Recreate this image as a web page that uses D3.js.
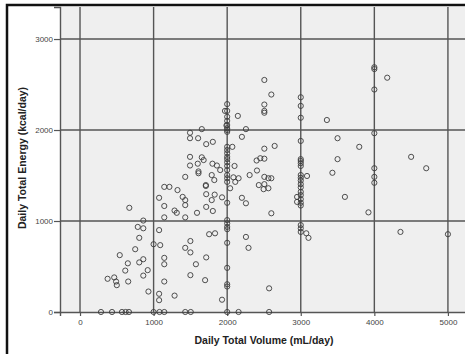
<!DOCTYPE html>
<html>
<head>
<meta charset="utf-8">
<script src="https://cdn.jsdelivr.net/npm/d3@7"></script>
<style>
  body { margin: 0; background: #fff; }
  text { font-family: "Liberation Sans", Arial, sans-serif; }
</style>
</head>
<body>
<script>
// daily total volume (mL/day) and daily total energy (kcal/day), one pair per subject
var volume = [
  2000, 2000, 2000, 2000, 2000, 2000, 2000, 2000, 2000, 2000, 2000, 2000, 2000, 2000, 2000, 2000,
  2000, 2000, 2000, 2000, 2000, 2000, 2000, 2000, 2000, 2000, 2000, 2000, 2000, 1970, 1990,
  3000, 3000, 3000, 3000, 3000, 3000, 3000, 3000, 3000, 3000, 3000, 3000, 3000, 3000, 3000, 3000,
  3000, 3000, 3000, 3000, 3000, 2950, 2950, 3085, 3075, 3105,
  4000, 4000, 4000, 4000, 4000, 4000, 4000,
  4175, 3355, 3500, 3795, 3500, 3430, 3600, 3920, 4355, 4500, 4705, 5000,
  2505, 2600, 2505, 2505, 2505, 2145, 2255, 2200, 2070, 2505, 2645, 2400, 2450, 2505, 2100, 2405,
  2305, 2505, 2560, 2600, 2085, 2155, 2110, 2430, 2505, 2495, 2560, 2040, 2200, 2255, 2600, 2255,
  2290, 2570, 2570, 2155,
  1655, 1715, 1805, 1655, 1680, 1800, 1860, 1905, 1790, 1825, 1710, 1710, 1715, 1830, 1790, 1930,
  1715, 1805, 1755, 1835, 1715, 1700, 1930,
  1495, 1495, 1605, 1495, 1495, 1600, 1610, 1610, 1430, 1395, 1430, 1430, 1430, 1590, 1500, 1430,
  1500, 1575, 1500, 1430, 1505,
  1145, 1215, 1325, 1075, 1145, 1285, 1315, 1145, 1075, 1090, 1145, 1145, 1145, 1075, 1075, 1285,
  1000, 1000, 1080, 1145,
  670, 860, 785, 860, 805, 750, 540, 860, 805, 650, 920, 615, 860, 375, 465, 490,
  500, 655, 930, 285, 435, 570, 620, 665
];
var energy = [
  2285, 2210, 2145, 2100, 2055, 2020, 2000, 1980, 1815, 1780, 1745, 1705, 1680, 1645, 1605, 1560,
  1505, 1470, 1430, 1200, 1010, 975, 935, 910, 760, 485, 305, 280, 0, 2210, 2050,
  2360, 2265, 2135, 1880, 1680, 1660, 1635, 1605, 1505, 1475, 1445, 1405, 1370, 1320, 1285, 1240,
  1200, 1170, 955, 920, 880, 1265, 1210, 1495, 865, 815,
  2690, 2670, 2445, 1965, 1580, 1485, 1420,
  2575, 2110, 1910, 1815, 1680, 1530, 1265, 1095, 880, 1705, 1580, 855,
  2550, 2390, 2280, 2210, 2190, 2155, 2010, 1925, 1815, 1795, 1825, 1665, 1690, 1685, 1605, 1555,
  1505, 1485, 1470, 1470, 1480, 1470, 1430, 1395, 1405, 1350, 1360, 1360, 1255, 1195, 1085, 825,
  705, 260, 0, 0,
  2010, 1845, 1870, 1700, 1670, 1630, 1610, 1560, 1505, 1450, 1385, 1395, 1295, 1290, 1230, 1260,
  1155, 1110, 855, 865, 600, 350, 135,
  1970, 1910, 1910, 1705, 1610, 1630, 1525, 1545, 1485, 1265, 1230, 1175, 1040, 1090, 780, 705,
  655, 525, 405, 0, 0,
  1375, 1375, 1340, 1255, 1165, 1115, 1090, 1040, 900, 735, 595, 525, 335, 200, 130, 180,
  745, 0, 0, 0,
  1145, 1005, 935, 920, 815, 690, 625, 580, 545, 535, 460, 455, 400, 365, 380, 335,
  295, 335, 225, 0, 0, 0, 0, 0
];
var xTicks = [0, 1000, 2000, 3000, 4000, 5000];
var yTicks = [0, 1000, 2000, 3000];

var width = 465;
var height = 354;
var plotLeft = 60, plotRight = 470, plotTop = 7, plotBottom = 312;

var data = volume.map(function (v, i) { return { volume: v, energy: energy[i] }; });

var svg = d3.select("body").append("svg")
    .attr("width", width)
    .attr("height", height);

svg.append("rect")
    .attr("width", width).attr("height", height)
    .attr("fill", "#fff");

var xScale = d3.scaleLinear().domain([-272, 5300]).range([plotLeft, plotRight]);
var yScale = d3.scaleLinear().domain([0, 3352]).range([plotBottom, plotTop]);

// plot background
svg.append("rect")
    .attr("x", plotLeft).attr("y", plotTop)
    .attr("width", plotRight - plotLeft).attr("height", plotBottom - plotTop)
    .attr("fill", "#efefef");

// grid lines
svg.selectAll(".vgrid")
    .data(xTicks)
    .enter().append("line")
    .attr("class", "vgrid")
    .attr("x1", d => xScale(d)).attr("x2", d => xScale(d))
    .attr("y1", plotTop).attr("y2", plotBottom)
    .attr("stroke", "#555").attr("stroke-width", 1.4);

svg.selectAll(".hgrid")
    .data(yTicks.filter(d => d > 0))
    .enter().append("line")
    .attr("class", "hgrid")
    .attr("x1", plotLeft).attr("x2", plotRight)
    .attr("y1", d => yScale(d)).attr("y2", d => yScale(d))
    .attr("stroke", "#555").attr("stroke-width", 1.4);

// axes
var xAxis = d3.axisBottom(xScale).tickValues(xTicks).tickFormat(d3.format("d")).tickSize(4).tickPadding(3);
var yAxis = d3.axisLeft(yScale).tickValues(yTicks).tickFormat(d3.format("d")).tickSize(6).tickPadding(1);

var gx = svg.append("g")
    .attr("transform", "translate(0," + plotBottom + ")")
    .call(xAxis);
var gy = svg.append("g")
    .attr("transform", "translate(" + plotLeft + ",0)")
    .call(yAxis);

[gx, gy].forEach(function (g) {
    g.select(".domain").attr("stroke", "#555").attr("stroke-width", 1.4);
    g.selectAll(".tick line").attr("stroke", "#555").attr("stroke-width", 1.2);
    g.selectAll(".tick text")
        .attr("fill", "#444")
        .style("font-size", "8px")
        .style("font-family", "'Liberation Sans', Arial, sans-serif");
});

// points
svg.selectAll("circle")
    .data(data)
    .enter().append("circle")
    .attr("cx", d => xScale(d.volume))
    .attr("cy", d => yScale(d.energy))
    .attr("r", 2.6)
    .attr("fill", "none")
    .attr("stroke", "#3c3c3c")
    .attr("stroke-width", 0.9);

// axis titles
svg.append("text")
    .attr("x", 264).attr("y", 344)
    .attr("text-anchor", "middle")
    .attr("font-size", "10.5px")
    .attr("font-weight", "bold")
    .attr("fill", "#222")
    .text("Daily Total Volume (mL/day)");

svg.append("text")
    .attr("transform", "translate(26,158) rotate(-90)")
    .attr("text-anchor", "middle")
    .attr("font-size", "10.5px")
    .attr("font-weight", "bold")
    .attr("fill", "#222")
    .text("Daily Total Energy (kcal/day)");

// outer frame
svg.append("rect")
    .attr("x", 7).attr("y", 5)
    .attr("width", width + 10).attr("height", height + 10)
    .attr("fill", "none")
    .attr("stroke", "#111")
    .attr("stroke-width", 2.5);
</script>
</body>
</html>
